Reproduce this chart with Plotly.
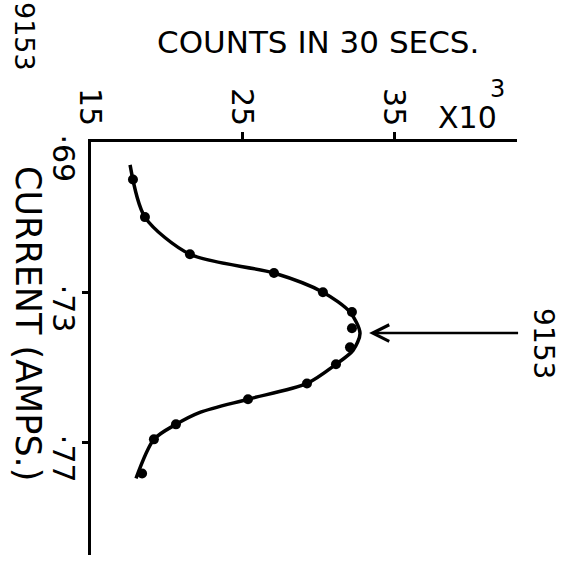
import plotly.graph_objects as go

# Measured points: beam current (A) vs counts in 30 s (thousands)
current_pts = [0.7000, 0.7100, 0.7199, 0.7249, 0.7300, 0.7353, 0.7396,
               0.7447, 0.7492, 0.7543, 0.7585, 0.7652, 0.7692, 0.7783]
counts_pts = [17.76, 18.55, 21.51, 27.04, 30.26, 32.17, 32.17,
              32.04, 31.12, 29.21, 25.33, 20.59, 19.14, 18.36]

# Smooth hand-drawn resonance curve through the points
curve_current = [0.6961, 0.7100, 0.7199, 0.7249, 0.7300, 0.7353, 0.7409, 0.7455,
                 0.7492, 0.7543, 0.7585, 0.7620, 0.7652, 0.7692, 0.7796]
curve_counts = [17.57, 18.55, 21.51, 27.04, 30.26, 32.04, 32.70, 32.24,
                31.12, 29.21, 25.33, 22.17, 20.59, 19.14, 17.96]

# Axis ticks and labels
count_ticks = [15, 25, 35]
count_labels = ["15", "25", "35"]
current_ticks = [0.69, 0.73, 0.77]
current_labels = ["·69", "·73", "·77"]

# Resonance marker
peak_label = "9153"
peak_current = 0.7409
peak_counts = 33.3
arrow_tail_counts = 43.2
label_counts = 43.0

W, H = 561, 565
FONT = "DejaVu Sans"


def text_note(x, y, text, size, angle=0, **kw):
    d = dict(x=x, y=y, text=text, showarrow=False, textangle=angle,
             xanchor="center", yanchor="middle",
             font=dict(family=FONT, size=size, color="black"))
    d.update(kw)
    return d


fig = go.Figure()
fig.add_trace(go.Scatter(
    x=curve_counts, y=curve_current, mode="lines",
    line=dict(color="black", width=3.5, shape="spline", smoothing=0.8),
    hoverinfo="skip", showlegend=False))
fig.add_trace(go.Scatter(
    x=counts_pts, y=current_pts, mode="markers",
    marker=dict(color="black", size=10), showlegend=False))

annotations = []
# count axis labels (rotated, above the top axis)
for v, t in zip(count_ticks, count_labels):
    annotations.append(text_note(v, 0.69, t, 30, 90, xref="x", yref="y",
                                 yshift=35))
# current axis labels (rotated, left of the axis)
for v, t in zip(current_ticks, current_labels):
    annotations.append(text_note(0, v, t, 30, 90, xref="x domain", yref="y",
                                 xanchor="right", xshift=-8, yshift=-16))

annotations += [
    text_note(318 / W, 1 - 42 / H, "COUNTS IN 30 SECS.", 31,
              xref="paper", yref="paper"),
    text_note(467 / W, 1 - 117 / H, "X10", 30, xref="paper", yref="paper"),
    text_note(497 / W, 1 - 89 / H, "3", 24, xref="paper", yref="paper"),
    text_note(28 / W, 1 - 323 / H, "CURRENT (AMPS.)", 35, 90,
              xref="paper", yref="paper"),
    text_note(25 / W, 1 - 36 / H, peak_label, 27, 90,
              xref="paper", yref="paper"),
    # arrow pointing at the peak
    dict(x=peak_counts, y=peak_current, xref="x", yref="y",
         ax=arrow_tail_counts, ay=peak_current, axref="x", ayref="y",
         text="", showarrow=True, arrowhead=5, arrowsize=1.3,
         arrowwidth=2.5, arrowcolor="black", standoff=0),
    text_note(label_counts, peak_current, peak_label, 28, 90,
              xref="x", yref="y", xanchor="left", xshift=9, yshift=-10),
]

fig.update_layout(
    width=W, height=H, autosize=False,
    margin=dict(l=0, r=0, t=0, b=0),
    paper_bgcolor="white", plot_bgcolor="white",
    showlegend=False,
    annotations=annotations,
    xaxis=dict(domain=[91 / W, 517 / W], range=[15, 43.03], side="top",
               showline=True, linecolor="black", linewidth=3,
               showgrid=False, zeroline=False,
               ticks="outside", tickvals=[25, 35], ticklen=7, tickwidth=2.5,
               tickcolor="black", showticklabels=False),
    yaxis=dict(domain=[1 - 555 / H, 1 - 142 / H], range=[0.800, 0.69],
               showline=True, linecolor="black", linewidth=3,
               showgrid=False, zeroline=False,
               ticks="outside", tickvals=[0.73, 0.77], ticklen=6, tickwidth=2.5,
               tickcolor="black", showticklabels=False),
)

fig.write_html("out.html")
